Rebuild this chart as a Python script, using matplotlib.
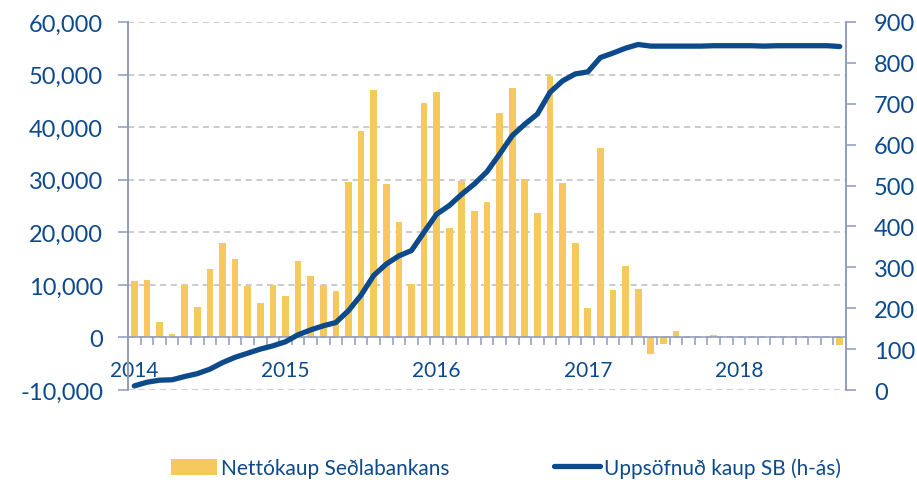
import numpy as np
import matplotlib.pyplot as plt
from matplotlib.ticker import FuncFormatter, FixedLocator

plt.rcParams['font.family'] = ['Lato', 'DejaVu Sans']

# monthly data, jan 2014 - sep 2018
months = [f"{y}-{m:02d}" for y in range(2014, 2019) for m in range(1, 13)][:57]
net_purchases = [10700, 10900, 2900, 600, 10000, 5700, 13000, 17900, 14900, 9700, 6500, 10000,
                 7900, 14500, 11700, 9900, 8800, 29500, 39300, 47000, 29100, 21900, 10200, 44600,
                 46600, 20900, 29800, 24100, 25700, 42700, 47500, 30200, 23700, 49800, 29400, 18000,
                 5600, 36100, 9000, 13600, 9300, -3100, -1300, 1200, 0, 0, 400, 0,
                 0, 0, 0, 0, 0, 0, 0, 0, -1400]
cumulative = [10, 19, 24, 25, 33, 40, 51, 67, 80, 90, 100, 108,
              118, 135, 147, 157, 165, 194, 232, 280, 308, 328, 341, 386,
              430, 451, 479, 504, 534, 577, 622, 650, 675, 728, 756, 773,
              778, 813, 824, 836, 845, 841, 841, 841, 841, 841, 842, 842,
              842, 842, 841, 842, 842, 842, 842, 842, 840]
year_labels = ['2014', '2015', '2016', '2017', '2018']

blue = '#0D4A8C'
yellow = '#F5C95E'
spine = '#8E99BD'

fig = plt.figure(figsize=(9.17, 4.81), dpi=100)
ax = fig.add_axes([0.1396, 0.1871, 0.783, 0.7651])
ax2 = ax.twinx()

x = np.arange(len(months))
ax.bar(x, net_purchases, width=0.53, color=yellow, zorder=2, label='Nettókaup Seðlabankans')
ax2.plot(x, cumulative, color=blue, lw=3.8, solid_capstyle='round', label='Uppsöfnuð kaup SB (h-ás)')

ax.set_xlim(-0.5, len(months) - 0.5)
ax.set_ylim(-10000, 60000)
ax2.set_ylim(0, 900)

ax.set_yticks(np.arange(-10000, 60001, 10000))
ax.yaxis.set_major_formatter(FuncFormatter(lambda v, p: f"{int(v):,}"))
ax2.set_yticks(np.arange(0, 901, 100))

ax.yaxis.grid(True, color='#BDBDBD', ls=(0, (4, 3)), lw=1.1, zorder=0)
ax.set_axisbelow(True)

# x axis sits on zero line
ax.spines['bottom'].set_position(('data', 0))
ax.set_xticks([0, 12, 24, 36, 48])
ax.set_xticklabels(year_labels)
ax.xaxis.set_minor_locator(FixedLocator(np.arange(0.5, len(months) - 0.5, 1)))
ax.tick_params(axis='x', which='major', length=0, pad=16, labelsize=15, labelcolor=blue)
ax.tick_params(axis='x', which='minor', length=6, width=1.1, color=spine, direction='out')
ax.tick_params(axis='y', length=7, width=1.1, color=spine, pad=11, labelsize=17, labelcolor=blue)
ax2.tick_params(axis='y', length=7, width=1.1, color=spine, pad=13, labelsize=17, labelcolor=blue)

for a in (ax, ax2):
    a.spines['top'].set_visible(False)
    for s in ('left', 'right', 'bottom'):
        a.spines[s].set_color(spine)
        a.spines[s].set_linewidth(1.1)
ax2.spines['bottom'].set_visible(False)

h1, l1 = ax.get_legend_handles_labels()
h2, l2 = ax2.get_legend_handles_labels()
leg = fig.legend(h1 + h2, l1 + l2, loc='center', bbox_to_anchor=(0.552, 0.026), ncol=2,
                 frameon=False, fontsize=15, handlelength=2.2, handleheight=0.8,
                 handletextpad=0.2, columnspacing=5.0)
for t in leg.get_texts():
    t.set_color(blue)

fig.savefig('out.png', dpi=100)
